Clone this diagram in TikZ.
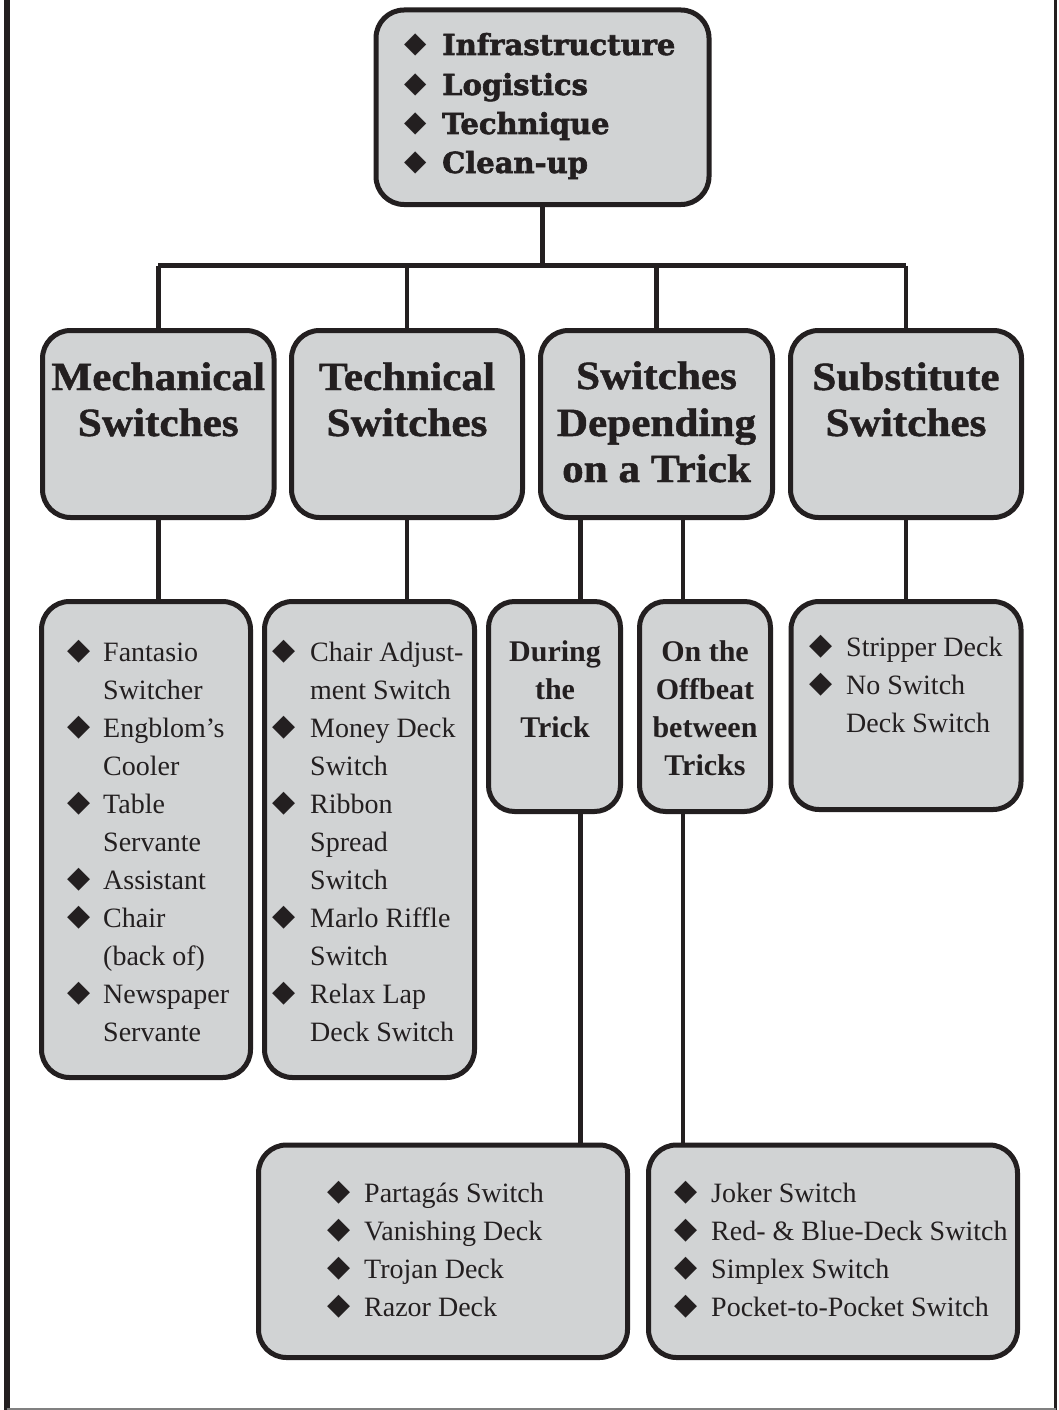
\documentclass[tikz,border=0pt]{standalone}
\usepackage{fontspec}
\setmainfont{Liberation Serif}
\newfontfamily\headfam{Liberation Serif}[FakeStretch=1.08, BoldFeatures={FakeBold=1.2}]
\newfontfamily\topfam{DejaVu Serif}[BoldFeatures={FakeBold=2}]
\newfontfamily\symfam{DejaVu Sans}
\definecolor{ink}{HTML}{231F20}
\definecolor{boxfill}{HTML}{D1D3D4}
\begin{document}
\begin{tikzpicture}[x=1pt,y=-1pt,
  box/.style={draw=ink, line width=5pt, fill=boxfill, rounded corners=28pt, inner sep=0pt, rectangle},
  conn/.style={draw=ink, line width=4.5pt},
  itemtxt/.style={anchor=base west, inner sep=0pt, text=ink, font=\fontsize{28}{34}\selectfont},
  bullet/.style={anchor=center, inner sep=0pt, text=ink, font=\symfam\fontsize{30}{34}\selectfont},
  topbullet/.style={anchor=center, inner sep=0pt, text=ink, font=\symfam\fontsize{29}{34}\selectfont},
  toptxt/.style={anchor=base west, inner sep=0pt, text=ink, font=\topfam\bfseries\fontsize{29}{34}\selectfont},
  headtxt/.style={anchor=base, inner sep=0pt, text=ink, font=\headfam\bfseries\fontsize{40}{46}\selectfont},
  subhead/.style={anchor=base, inner sep=0pt, text=ink, font=\bfseries\fontsize{30}{36}\selectfont}
]
\useasboundingbox (0,0) rectangle (1058,1410);
\fill[white] (0,0) rectangle (1058,1410);
% frame
\draw[ink, line width=6pt] (6.5,0) -- (6.5,1410);
\draw[ink, line width=3.5pt] (1055.5,0) -- (1055.5,1410);
\draw[gray, line width=1.5pt] (6.5,1409.2) -- (1055.5,1409.2);

% boxes
\node[box, minimum width=333pt, minimum height=194.5pt] (top) at (542.5,107.25) {};
\node[box, minimum width=231.5pt, minimum height=187pt] (mech) at (158.25,424) {};
\node[box, minimum width=231pt, minimum height=187pt] (tech) at (407,424) {};
\node[box, minimum width=232pt, minimum height=187pt] (dep) at (656.5,424) {};
\node[box, minimum width=231pt, minimum height=187pt] (subst) at (906,424) {};
\node[box, minimum width=209pt, minimum height=476pt] (mechlist) at (146,839.5) {};
\node[box, minimum width=210pt, minimum height=476pt] (techlist) at (369.5,839.5) {};
\node[box, minimum width=132pt, minimum height=210pt, rounded corners=26pt] (during) at (554.5,706.5) {};
\node[box, minimum width=131pt, minimum height=210pt, rounded corners=26pt] (offbeat) at (705,706.5) {};
\node[box, minimum width=230pt, minimum height=208pt] (sublist) at (906,705.5) {};
\node[box, minimum width=369pt, minimum height=212.5pt] (botL) at (443,1251.25) {};
\node[box, minimum width=369pt, minimum height=212.5pt] (botR) at (833,1251.25) {};

% connectors
\coordinate (bus) at (542.5,265.5);
\coordinate (kA) at (580.5,600);
\coordinate (kB) at (683,600);
\draw[conn] (top.south) -- (top.south |- bus);
\draw[conn] (mech.north |- bus) -- (subst.north |- bus);
\draw[conn] (mech.north |- bus) -- (mech.north);
\draw[conn] (tech.north |- bus) -- (tech.north);
\draw[conn] (dep.north |- bus) -- (dep.north);
\draw[conn] (subst.north |- bus) -- (subst.north);
\draw[conn] (mech.south) -- (mech.south |- mechlist.north);
\draw[conn] (tech.south) -- (tech.south |- techlist.north);
\draw[conn] (kA |- dep.south) -- (kA |- during.north);
\draw[conn] (kB |- dep.south) -- (kB |- offbeat.north);
\draw[conn] (subst.south) -- (subst.south |- sublist.north);
\draw[conn] (kA |- during.south) -- (kA |- botL.north);
\draw[conn] (kB |- offbeat.south) -- (kB |- botR.north);

% top box text
\node[topbullet] (tb1) at (416,45) {◆};
\node[toptxt] (tt1) at (442,55) {Infrastructure};
\node[topbullet] (tb2) at (416,85) {◆};
\node[toptxt] (tt2) at (442,95) {Logistics};
\node[topbullet] (tb3) at (416,124) {◆};
\node[toptxt] (tt3) at (442,134) {Technique};
\node[topbullet] (tb4) at (416,163) {◆};
\node[toptxt] (tt4) at (442,173) {Clean-up};

% headings
\node[headtxt] (h1a) at (158.25,390) {Mechanical};
\node[headtxt] (h1b) at (158.25,436) {Switches};
\node[headtxt] (h2a) at (407,390) {Technical};
\node[headtxt] (h2b) at (407,436) {Switches};
\node[headtxt] (h3a) at (656.5,389) {Switches};
\node[headtxt] (h3b) at (656.5,436) {Depending};
\node[headtxt] (h3c) at (656.5,482) {on a Trick};
\node[headtxt] (h4a) at (906,390) {Substitute};
\node[headtxt] (h4b) at (906,436) {Switches};

% sub headings
\node[subhead] (d1) at (555,661) {During};
\node[subhead] (d2) at (555,699) {the};
\node[subhead] (d3) at (555,737) {Trick};
\node[subhead] (o1) at (705,661) {On the};
\node[subhead] (o2) at (705,699) {Offbeat};
\node[subhead] (o3) at (705,737) {between};
\node[subhead] (o4) at (705,775) {Tricks};

% mechanical list
\node[bullet] (mb1) at (79,652) {◆};
\node[itemtxt] (m1) at (103,661) {Fantasio};
\node[itemtxt] (m2) at (103,699) {Switcher};
\node[bullet] (mb2) at (79,728) {◆};
\node[itemtxt] (m3) at (103,737) {Engblom’s};
\node[itemtxt] (m4) at (103,775) {Cooler};
\node[bullet] (mb3) at (79,804) {◆};
\node[itemtxt] (m5) at (103,813) {Table};
\node[itemtxt] (m6) at (103,851) {Servante};
\node[bullet] (mb4) at (79,880) {◆};
\node[itemtxt] (m7) at (103,889) {Assistant};
\node[bullet] (mb5) at (79,918) {◆};
\node[itemtxt] (m8) at (103,927) {Chair};
\node[itemtxt] (m9) at (103,965) {(back of)};
\node[bullet] (mb6) at (79,994) {◆};
\node[itemtxt] (m10) at (103,1003) {Newspaper};
\node[itemtxt] (m11) at (103,1041) {Servante};

% technical list
\node[bullet] (tcb1) at (284.5,652) {◆};
\node[itemtxt] (tc1) at (310,661) {Chair Adjust-};
\node[itemtxt] (tc2) at (310,699) {ment Switch};
\node[bullet] (tcb2) at (284.5,728) {◆};
\node[itemtxt] (tc3) at (310,737) {Money Deck};
\node[itemtxt] (tc4) at (310,775) {Switch};
\node[bullet] (tcb3) at (284.5,804) {◆};
\node[itemtxt] (tc5) at (310,813) {Ribbon};
\node[itemtxt] (tc6) at (310,851) {Spread};
\node[itemtxt] (tc7) at (310,889) {Switch};
\node[bullet] (tcb4) at (284.5,918) {◆};
\node[itemtxt] (tc8) at (310,927) {Marlo Riffle};
\node[itemtxt] (tc9) at (310,965) {Switch};
\node[bullet] (tcb5) at (284.5,994) {◆};
\node[itemtxt] (tc10) at (310,1003) {Relax Lap};
\node[itemtxt] (tc11) at (310,1041) {Deck Switch};

% substitute list
\node[bullet] (sb1) at (821,647) {◆};
\node[itemtxt] (s1) at (846,656) {Stripper Deck};
\node[bullet] (sb2) at (821,685) {◆};
\node[itemtxt] (s2) at (846,694) {No Switch};
\node[itemtxt] (s3) at (846,732) {Deck Switch};

% bottom left list
\node[bullet] (lb1) at (339,1193) {◆};
\node[itemtxt] (l1) at (364,1202) {Partagás Switch};
\node[bullet] (lb2) at (339,1231) {◆};
\node[itemtxt] (l2) at (364,1240) {Vanishing Deck};
\node[bullet] (lb3) at (339,1269) {◆};
\node[itemtxt] (l3) at (364,1278) {Trojan Deck};
\node[bullet] (lb4) at (339,1307) {◆};
\node[itemtxt] (l4) at (364,1316) {Razor Deck};

% bottom right list
\node[bullet] (rb1) at (686,1193) {◆};
\node[itemtxt] (r1) at (711,1202) {Joker Switch};
\node[bullet] (rb2) at (686,1231) {◆};
\node[itemtxt] (r2) at (711,1240) {Red- \& Blue-Deck Switch};
\node[bullet] (rb3) at (686,1269) {◆};
\node[itemtxt] (r3) at (711,1278) {Simplex Switch};
\node[bullet] (rb4) at (686,1307) {◆};
\node[itemtxt] (r4) at (711,1316) {Pocket-to-Pocket Switch};
\end{tikzpicture}
\end{document}
